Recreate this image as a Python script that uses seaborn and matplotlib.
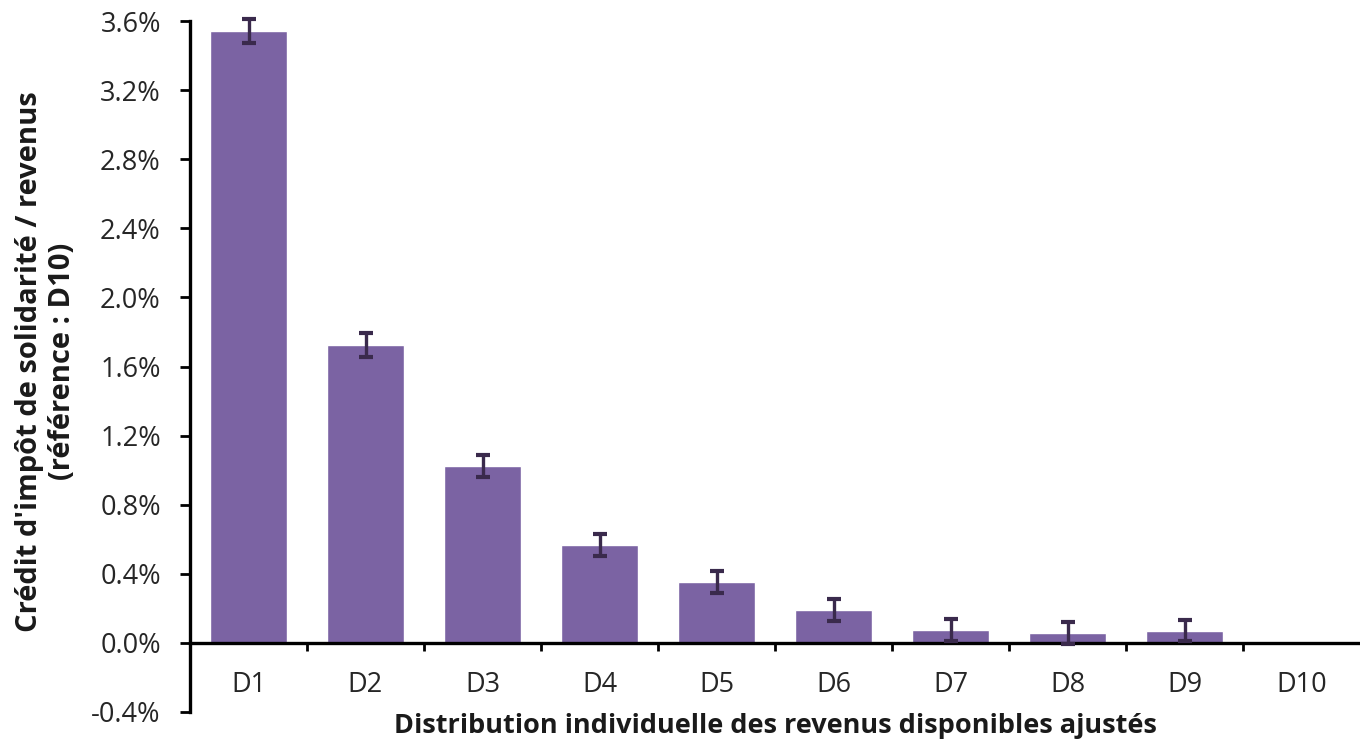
import matplotlib
matplotlib.use("Agg")
import matplotlib.pyplot as plt
import matplotlib.ticker as mticker
import seaborn as sns
import pandas as pd
import numpy as np

categories = ["D1", "D2", "D3", "D4", "D5", "D6", "D7", "D8", "D9", "D10"]
values = [3.54, 1.725, 1.024, 0.567, 0.353, 0.19, 0.075, 0.058, 0.07, 0.0]
errors = [0.07, 0.07, 0.065, 0.065, 0.065, 0.065, 0.065, 0.065, 0.06, 0.0]
yticks = [-0.4, 0.0, 0.4, 0.8, 1.2, 1.6, 2.0, 2.4, 2.8, 3.2, 3.6]

sns.set_theme(style="white")
plt.rcParams["font.family"] = ["Open Sans", "DejaVu Sans"]

df = pd.DataFrame({"cat": categories, "val": values})

fig = plt.figure(figsize=(13.6, 7.44), dpi=100)
ax = fig.add_axes([190 / 1360, 1 - 712 / 744, 1170 / 1360, (712 - 21) / 744])

sns.barplot(data=df, x="cat", y="val", color="#7B63A3", saturation=1,
            width=0.66, ax=ax, errorbar=None)

xs = np.arange(len(categories))
mask = np.array(errors) > 0
eb = ax.errorbar(xs[mask], np.array(values)[mask], yerr=np.array(errors)[mask],
                 fmt="none", ecolor="#3A2A4C", elinewidth=2.4, capsize=5,
                 capthick=3, zorder=5)
for art in eb.lines[1] + eb.lines[2]:
    art.set_clip_on(False)

ax.set_xlim(-0.5, len(categories) - 0.5)
ax.set_ylim(-0.4, 3.6)
ax.set_yticks(yticks)
ax.yaxis.set_major_formatter(mticker.FuncFormatter(lambda v, p: f"{v:.1f}%"))

for s in ["top", "right"]:
    ax.spines[s].set_visible(False)
ax.spines["bottom"].set_position(("data", 0))
ax.spines["bottom"].set_linewidth(2.4)
ax.spines["bottom"].set_color("black")
ax.spines["left"].set_linewidth(2.4)
ax.spines["left"].set_color("black")

ax.tick_params(axis="y", direction="out", length=7, width=2, color="black",
               labelsize=19.5, labelcolor="#262626", pad=14, left=True)
ax.set_xticks(xs)
ax.set_xticklabels(categories)
ax.tick_params(axis="x", which="major", length=0, labelsize=19.5,
               labelcolor="#262626", pad=20)
ax.set_xticks(np.arange(0.5, len(categories) - 0.5, 1.0), minor=True)
ax.tick_params(axis="x", which="minor", direction="out", length=6, width=2,
               color="black", bottom=True)

ax.set_xlabel("Distribution individuelle des revenus disponibles ajustés",
              fontsize=19.5, fontweight="bold", color="#1a1a1a")
ax.xaxis.set_label_coords(0.5, -0.002)
ax.set_ylabel("Crédit d'impôt de solidarité / revenus\n(référence : D10)",
              fontsize=21, fontweight="bold", color="#1a1a1a",
              linespacing=1.15)
ax.yaxis.set_label_coords(-0.097, 0.507)

fig.savefig("out.png", dpi=100)
